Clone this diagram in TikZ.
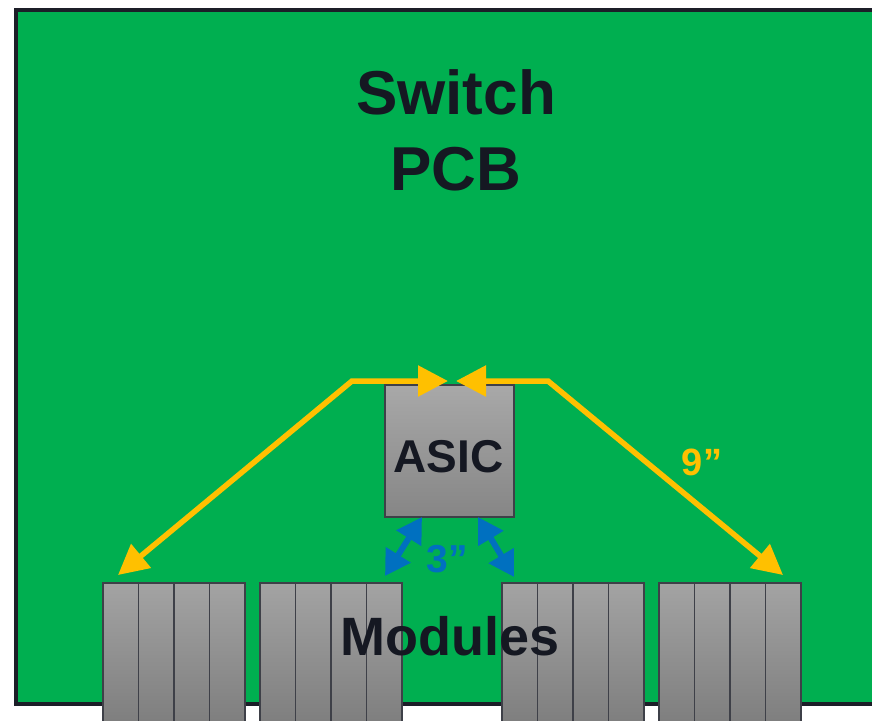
\documentclass[tikz,border=0pt]{standalone}
\usepackage{fontspec}
\setmainfont{Liberation Sans}
\usetikzlibrary{arrows.meta}
\definecolor{pcbgreen}{HTML}{00AF50}
\definecolor{edgedark}{HTML}{1C1E28}
\definecolor{txtdark}{HTML}{151822}
\definecolor{ayellow}{HTML}{FFC000}
\definecolor{ablue}{HTML}{0070C0}
\tikzset{
  slot/.style={draw=edgedark!85, line width=1.3pt, top color=gray!72, bottom color=gray!95!black, shading angle=0, minimum width=35.5pt, minimum height=160pt, anchor=north west, inner sep=0pt, outer sep=0pt},
  chip/.style={draw=edgedark!85, line width=1.5pt, top color=gray!68, bottom color=gray!105!black!100, inner sep=0pt, minimum width=129pt, minimum height=132pt, anchor=north west},
  bigtxt/.style={font=\bfseries, text=txtdark, inner sep=0pt, anchor=base},
  yarrow/.style={draw=ayellow, line width=5.5pt, {Triangle[length=30pt,width=30pt]}-{Triangle[length=30pt,width=30pt]}, line join=miter},
  barrow/.style={draw=ablue, line width=6pt, {Triangle[length=25pt,width=28pt]}-{Triangle[length=25pt,width=28pt]}},
}
\begin{document}
\begin{tikzpicture}[x=1pt,y=-1pt]
\useasboundingbox (0,0) rectangle (872,720);
\clip (0,0) rectangle (872,720);
% PCB
\fill[white] (0,0) rectangle (872,720);
\draw[draw=edgedark, line width=4pt, fill=pcbgreen] (16,10) rectangle (900,704);
\node[bigtxt, font=\fontsize{62}{62}\selectfont\bfseries] (sw) at (456,114) {Switch};
\node[bigtxt, font=\fontsize{62}{62}\selectfont\bfseries] (pcb) at (456,190) {PCB};
% ASIC
\node[chip] (asic) at (384,384) {};
\node[bigtxt, font=\fontsize{46}{46}\selectfont\bfseries] (asictxt) at (448.5,472) {ASIC};
% modules
\foreach \g/\gx in {1/103,2/260,3/502,4/659}{
  \foreach \s in {0,1,2,3}{
    \node[slot] (m\g\s) at (\gx+\s*35.5,583) {};
  }
}
\node[bigtxt, font=\fontsize{54}{54}\selectfont\bfseries] (mod) at (450,655) {Modules};
% yellow arrows
\coordinate (yl0) at (118,575);
\coordinate (yl1) at (352,381);
\coordinate (yl2) at (448,381);
\coordinate (yr0) at (783,575);
\coordinate (yr1) at (548,381);
\coordinate (yr2) at (456,381);
\draw[yarrow] (yl0) -- (yl1) -- (yl2);
\draw[yarrow] (yr0) -- (yr1) -- (yr2);
\node[font=\fontsize{38}{38}\selectfont\bfseries, text=ayellow, inner sep=0pt, anchor=base] (nine) at (702,475) {9”};
% blue arrows
\coordinate (bl0) at (422,517);
\coordinate (bl1) at (385,576);
\coordinate (br0) at (478,517);
\coordinate (br1) at (514,577);
\draw[barrow] (bl0) -- (bl1);
\draw[barrow] (br0) -- (br1);
\node[font=\fontsize{39}{39}\selectfont\bfseries, text=ablue, inner sep=0pt, anchor=base] (three) at (447,572) {3”};
\end{tikzpicture}
\end{document}
